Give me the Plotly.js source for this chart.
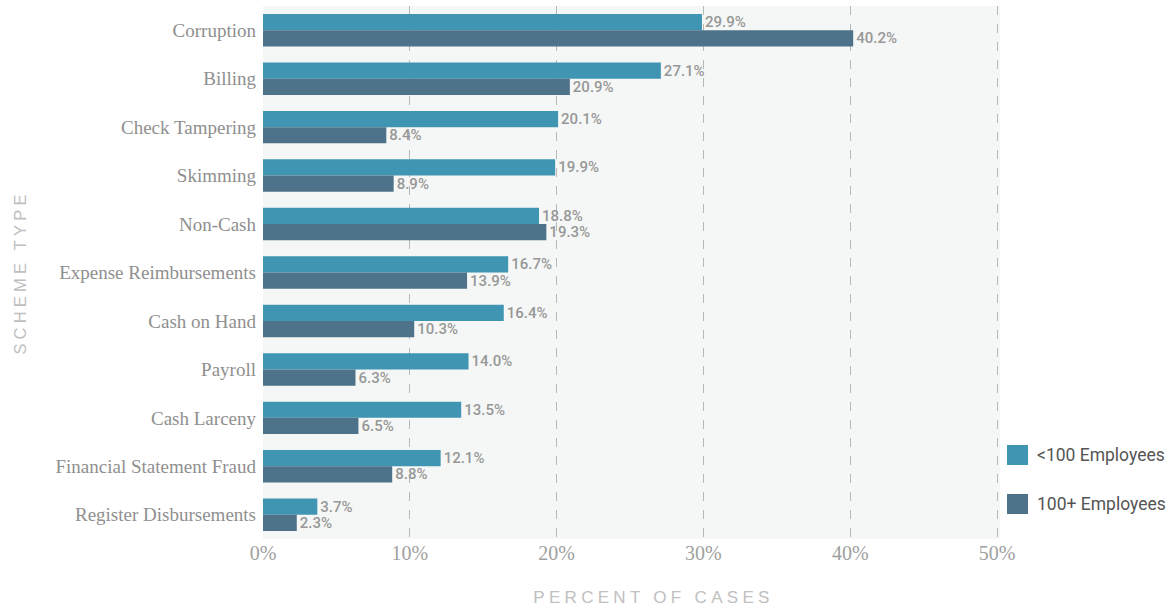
<!DOCTYPE html>
<html>
<head>
<meta charset="utf-8">
<script src="https://cdn.plot.ly/plotly-3.0.1.min.js"></script>
<style>
html,body{margin:0;padding:0;background:#fff;}
#chart{width:1175px;height:609px;}
.xtitle{letter-spacing:4.3px;transform:translateX(22px);}
.ytitle{letter-spacing:4.2px;}
</style>
</head>
<body>
<div id="chart"></div>
<script>
var categories = ["Corruption","Billing","Check Tampering","Skimming","Non-Cash","Expense Reimbursements","Cash on Hand","Payroll","Cash Larceny","Financial Statement Fraud","Register Disbursements"];
var small = [29.9,27.1,20.1,19.9,18.8,16.7,16.4,14.0,13.5,12.1,3.7];
var large = [40.2,20.9,8.4,8.9,19.3,13.9,10.3,6.3,6.5,8.8,2.3];
var seriesNames = ["<100 Employees","100+ Employees"];
var colors = ["#4096b2","#4e7289"];
var xTicks = [0,10,20,30,40,50];
var xTickText = ["0%","10%","20%","30%","40%","50%"];

var textFont = {family:"Roboto, sans-serif", size:15, color:"#979797", weight:500};
function barTrace(vals, i){
  return {
    type:"bar", orientation:"h", x:vals, y:categories, name:seriesNames[i],
    marker:{color:colors[i]}, showlegend:false,
    text: vals.map(function(v){return v.toFixed(1)+"%";}),
    textposition:"outside", textfont:textFont, constraintext:"none", cliponaxis:false,
    hoverinfo:"x+y"
  };
}
var traces = [barTrace(small,0), barTrace(large,1)];

var L=263, R=175, T=6, B=70, W=1175, H=609;
var pw = W-L-R, ph = H-T-B;
function px(x){return (x-L)/pw;}
function py(y){return (H-B-y)/ph;}

var legendY = [455, 504];
var shapes = [], annotations = [];
for (var i=0;i<2;i++){
  shapes.push({type:"rect", xref:"paper", yref:"paper", x0:px(1007), x1:px(1028), y0:py(legendY[i]+10), y1:py(legendY[i]-10), fillcolor:colors[i], line:{width:0}});
  annotations.push({xref:"paper", yref:"paper", x:px(1035), y:py(legendY[i]), xanchor:"left", yanchor:"middle", showarrow:false, text:seriesNames[i].replace("<","&lt;"), font:{family:"Roboto, sans-serif", size:17.5, color:"#555"}});
}

var layout = {
  width:W, height:H,
  margin:{l:L, r:R, t:T, b:B, pad:0},
  paper_bgcolor:"#ffffff", plot_bgcolor:"#f5f7f6",
  barmode:"group", bargap:0.33, bargroupgap:0,
  showlegend:false,
  font:{family:"'Liberation Serif', serif", color:"#999"},
  xaxis:{
    range:[0,50.2], tickvals:xTicks, ticktext:xTickText,
    showgrid:true, gridcolor:"#b8b8b8", griddash:"dash", gridwidth:1,
    zeroline:false, showline:false, ticks:"",
    tickfont:{family:"'Liberation Serif', serif", size:20, color:"#a0a0a0"},
    title:{text:"PERCENT OF CASES", font:{family:"'Liberation Sans', sans-serif", size:17, color:"#c0c0c0"}, standoff:28}
  },
  yaxis:{
    autorange:"reversed", type:"category",
    showgrid:false, zeroline:false, showline:false, ticks:"",
    ticklabelstandoff:6,
    tickfont:{family:"'Liberation Serif', serif", size:19, color:"#8f8f8f"},
    title:{text:"SCHEME TYPE", font:{family:"'Liberation Sans', sans-serif", size:16.5, color:"#c0c0c0"}, standoff:24}
  },
  shapes:shapes, annotations:annotations
};
Plotly.newPlot("chart", traces, layout, {displayModeBar:false, staticPlot:true});
</script>
</body>
</html>
